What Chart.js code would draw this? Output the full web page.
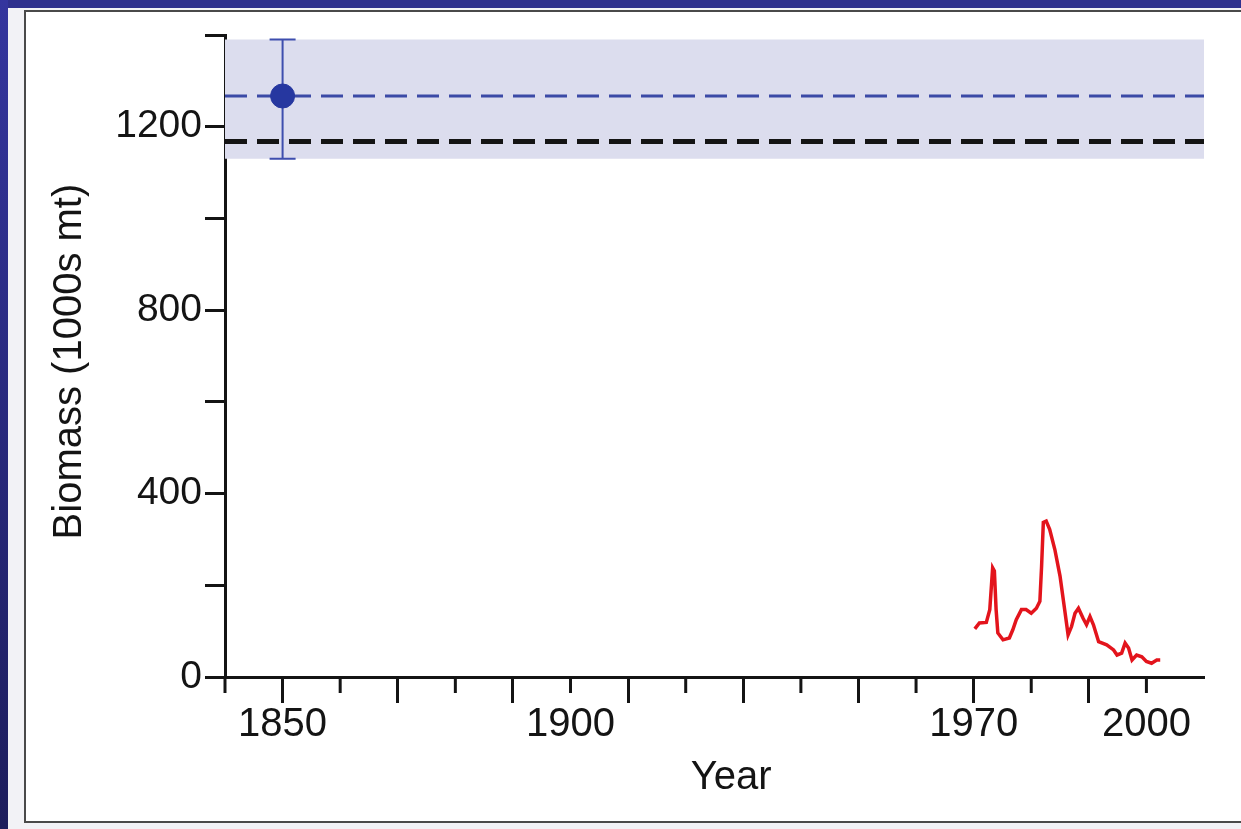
<!DOCTYPE html>
<html>
<head>
<meta charset="utf-8">
<script src="https://cdn.jsdelivr.net/npm/chart.js"></script>
<style>
  html, body { margin: 0; padding: 0; }
  body { width: 1241px; height: 829px; background: #f2f2f6; position: relative; overflow: hidden; }
  .blue-top { position: absolute; left: 0; top: 0; width: 1241px; height: 8px; background: #2f308e; }
  .blue-left { position: absolute; left: 0; top: 0; width: 8px; height: 829px; background: linear-gradient(#34359e, #1d1d5c); }
  .panel { position: absolute; left: 24px; top: 10px; width: 1240px; height: 813px; border: 2px solid #4a4a4a; background: #fff; box-sizing: border-box; }
  #wrap { position: absolute; left: 0; top: 0; width: 1241px; height: 829px; }
</style>
</head>
<body>
<div class="blue-top"></div>
<div class="blue-left"></div>
<div class="panel"></div>
<div id="wrap"><canvas id="chart" width="1241" height="829"></canvas></div>
<script>
// axis ranges and ticks
const xMin = 1840, xMax = 2010;
const xTickYears = [1840, 1850, 1860, 1870, 1880, 1890, 1900, 1910, 1920, 1930, 1940, 1950, 1960, 1970, 1980, 1990, 2000];
const xLabelYears = [1850, 1900, 1970, 2000];
const yTickValues = [0, 200, 400, 600, 800, 1000, 1200, 1400];
const yLabelValues = [0, 400, 800, 1200];

// historical estimate (1850) with its range
const estYear = [1850];
const estBiomass = [1267];
const estLow = [1130];
const estHigh = [1390];
const blueDashLevel = 1267;
const blackDashLevel = 1168;

// recent survey series
const redYears = [1970.2, 1971.0, 1972.2, 1972.8, 1973.3, 1973.6, 1973.9, 1974.2, 1975.1, 1976.2,
  1976.8, 1977.4, 1978.3, 1979.1, 1980.0, 1980.9, 1981.5, 1981.8, 1982.1, 1982.6,
  1983.2, 1984.1, 1985.0, 1985.8, 1986.4, 1987.0, 1987.6, 1988.2, 1989.0, 1989.6,
  1990.2, 1990.8, 1991.7, 1993.1, 1994.3, 1994.9, 1995.7, 1996.3, 1996.9, 1997.5,
  1998.3, 1999.2, 2000.0, 2000.9, 2001.8, 2002.4];
const redBiomass = [105, 118, 119, 147, 238, 231, 147, 96, 81, 85,
  103, 125, 147, 147, 139, 150, 165, 242, 337, 340,
  322, 278, 220, 147, 92, 110, 139, 150, 128, 114,
  132, 114, 77, 70, 59, 48, 52, 74, 63, 37,
  48, 44, 34, 30, 37, 37];

const FONT = '"Liberation Sans", Arial, Helvetica, sans-serif';
const INK = '#141414';

// long ticks on odd decades, short ones on even decades
const isLong = v => (Math.round(v / 10) % 2) === 1;

const errorBarPlugin = {
  id: 'errorBar',
  beforeDatasetDraw(chart, args) {
    if (args.index !== 0) return;
    const { ctx, scales: { x, y } } = chart;
    ctx.save();
    ctx.strokeStyle = '#3e4eae';
    ctx.lineWidth = 2;
    estYear.forEach((yr, i) => {
      const px = x.getPixelForValue(yr);
      const top = y.getPixelForValue(estHigh[i]);
      const bot = y.getPixelForValue(estLow[i]);
      ctx.beginPath();
      ctx.moveTo(px, top); ctx.lineTo(px, bot);
      ctx.moveTo(px - 13, top); ctx.lineTo(px + 13, top);
      ctx.moveTo(px - 13, bot); ctx.lineTo(px + 13, bot);
      ctx.stroke();
    });
    ctx.restore();
  }
};

const shortTicksPlugin = {
  id: 'shortTicks',
  afterDraw(chart) {
    const { ctx, scales: { x } } = chart;
    ctx.save();
    ctx.strokeStyle = INK;
    ctx.lineWidth = 3;
    xTickYears.filter(v => !isLong(v)).forEach(v => {
      const px = x.getPixelForValue(v);
      ctx.beginPath();
      ctx.moveTo(px, x.top);
      ctx.lineTo(px, x.top + 16);
      ctx.stroke();
    });
    ctx.restore();
  }
};

new Chart(document.getElementById('chart'), {
  type: 'scatter',
  data: {
    datasets: [
      {
        label: 'Estimate',
        data: estYear.map((v, i) => ({ x: v, y: estBiomass[i] })),
        pointRadius: 12,
        backgroundColor: '#2637a0',
        borderColor: '#2637a0'
      },
      {
        label: 'Survey',
        data: redYears.map((v, i) => ({ x: v, y: redBiomass[i] })),
        showLine: true,
        borderColor: '#e3141c',
        borderWidth: 3.5,
        pointRadius: 0,
        tension: 0
      },
      {
        label: 'Estimate level',
        data: [{ x: xMin, y: blueDashLevel }, { x: xMax, y: blueDashLevel }],
        showLine: true,
        borderColor: '#3b4aa6',
        borderWidth: 3,
        borderDash: [22, 10],
        pointRadius: 0
      },
      {
        label: 'Reference level',
        data: [{ x: xMin, y: blackDashLevel }, { x: xMax, y: blackDashLevel }],
        showLine: true,
        borderColor: INK,
        borderWidth: 5,
        borderDash: [22, 10],
        pointRadius: 0
      },
      {
        label: 'Range',
        data: [{ x: xMin, y: estHigh[0] }, { x: xMax, y: estHigh[0] }],
        showLine: true,
        borderWidth: 0,
        borderColor: 'rgba(0,0,0,0)',
        backgroundColor: '#dcddee',
        fill: { value: estLow[0] },
        pointRadius: 0
      }
    ]
  },
  options: {
    responsive: false,
    animation: false,
    devicePixelRatio: 1,
    layout: { padding: { top: 35, right: 37, left: 0, bottom: 0 } },
    plugins: { legend: { display: false }, tooltip: { enabled: false } },
    scales: {
      x: {
        type: 'linear',
        min: xMin,
        max: xMax,
        afterBuildTicks: s => { s.ticks = xTickYears.map(v => ({ value: v })); },
        afterFit: s => { s.height = 152; },
        ticks: {
          autoSkip: false,
          maxRotation: 0,
          padding: -2,
          color: INK,
          font: { family: FONT, size: 40 },
          callback: v => xLabelYears.includes(v) ? String(v) : ''
        },
        grid: {
          drawOnChartArea: false,
          tickLength: 26,
          tickWidth: 3,
          tickColor: c => (c.tick && isLong(c.tick.value)) ? INK : 'rgba(0,0,0,0)'
        },
        border: { color: INK, width: 3 },
        title: {
          display: true,
          text: '   Year',
          color: INK,
          font: { family: FONT, size: 40 },
          padding: { top: 0, bottom: 27 }
        }
      },
      y: {
        min: 0,
        max: 1400,
        afterBuildTicks: s => { s.ticks = yTickValues.map(v => ({ value: v })); },
        afterFit: s => { s.width = 225; },
        ticks: {
          padding: 3,
          color: INK,
          font: { family: FONT, size: 39 },
          callback: v => yLabelValues.includes(v) ? String(v) : ''
        },
        grid: { drawOnChartArea: false, tickLength: 20, tickWidth: 3, tickColor: INK },
        border: { color: INK, width: 3 },
        title: {
          display: true,
          text: 'Biomass (1000s mt) ',
          color: INK,
          font: { family: FONT, size: 40 },
          padding: { top: 46, bottom: 0 }
        }
      }
    }
  },
  plugins: [errorBarPlugin, shortTicksPlugin]
});
</script>
</body>
</html>
